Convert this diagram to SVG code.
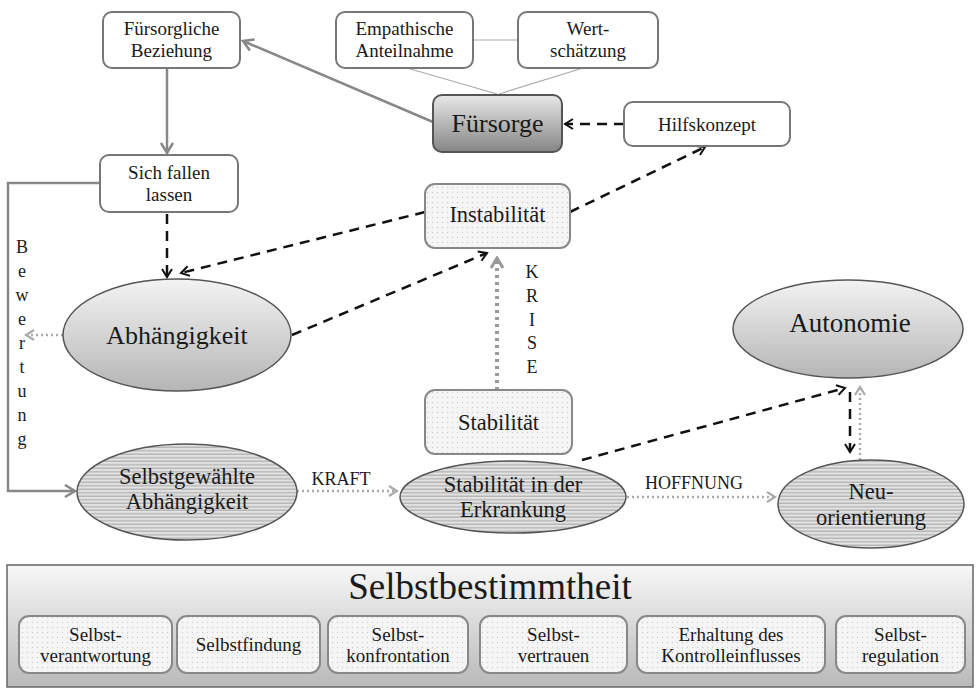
<svg xmlns="http://www.w3.org/2000/svg" width="978" height="690" viewBox="0 0 978 690">
<defs>
<style>
text{font-family:"Liberation Serif","DejaVu Serif",serif;fill:#1a1a1a;text-anchor:middle}
.t19{font-size:19px}
.t22{font-size:22.5px}
.t18{font-size:18px}
.box{fill:#fff;stroke:#777;stroke-width:2}
.dot{fill:url(#dots);stroke:#888;stroke-width:2}
.ell{fill:url(#ellG);stroke:#555;stroke-width:1.5}
.str{fill:url(#stripes);stroke:#555;stroke-width:1.5}
.gs{fill:none;stroke:#888;stroke-width:2.5}
.dash{fill:none;stroke:#111;stroke-width:2.5;stroke-dasharray:10,7}
.dotl{fill:none;stroke:#aaa;stroke-width:2.5;stroke-dasharray:2,3}
.thin{fill:none;stroke:#aaa;stroke-width:1.2}
</style>
<pattern id="dots" width="5" height="5" patternUnits="userSpaceOnUse">
<rect width="5" height="5" fill="#f5f5f5"/>
<circle cx="2.5" cy="2.5" r="0.7" fill="#cfcfcf"/>
</pattern>
<pattern id="stripes" width="6" height="3.5" patternUnits="userSpaceOnUse">
<rect width="6" height="3.5" fill="#e2e2e2"/>
<rect y="2.2" width="6" height="1.1" fill="#a9a9a9"/>
</pattern>
<linearGradient id="ellG" x1="0" y1="0" x2="0" y2="1">
<stop offset="0" stop-color="#f3f3f3"/>
<stop offset="1" stop-color="#b5b5b5"/>
</linearGradient>
<linearGradient id="fsG" x1="0" y1="0" x2="0" y2="1">
<stop offset="0" stop-color="#e8e8e8"/>
<stop offset="1" stop-color="#858585"/>
</linearGradient>
<linearGradient id="panelG" x1="0" y1="0" x2="0" y2="1">
<stop offset="0" stop-color="#f7f7f7"/>
<stop offset="1" stop-color="#b9b9b9"/>
</linearGradient>
<marker id="ab" viewBox="0 0 12 12" refX="10" refY="6" markerWidth="12" markerHeight="12" markerUnits="userSpaceOnUse" orient="auto">
<path d="M2,1 L10,6 L2,11" fill="none" stroke="#111" stroke-width="2"/>
</marker>
<marker id="ag" viewBox="0 0 14 14" refX="12" refY="7" markerWidth="14" markerHeight="14" markerUnits="userSpaceOnUse" orient="auto">
<path d="M2,1 L12,7 L2,13" fill="none" stroke="#888" stroke-width="2.5"/>
</marker>
<marker id="al" viewBox="0 0 12 12" refX="10" refY="6" markerWidth="12" markerHeight="12" markerUnits="userSpaceOnUse" orient="auto">
<path d="M2,1 L10,6 L2,11" fill="none" stroke="#aaa" stroke-width="2.2"/>
</marker>
<marker id="ak" viewBox="0 0 14 14" refX="12" refY="7" markerWidth="14" markerHeight="14" markerUnits="userSpaceOnUse" orient="auto">
<path d="M2,1 L12,7 L2,13" fill="none" stroke="#999" stroke-width="3"/>
</marker>
</defs>
<rect width="978" height="690" fill="#fff"/>

<g id="connectors">
<path class="thin" d="M473,40 H518"/>
<path class="thin" d="M407,68 L497,94"/>
<path class="thin" d="M583,68 L499,94"/>
<path class="gs" d="M433,122 L243,41" marker-end="url(#ag)"/>
<path class="gs" d="M167,68 V153" marker-end="url(#ag)"/>
<path class="gs" d="M100,183 H8 V491 H75" marker-end="url(#ag)"/>
<path class="dash" d="M167,214 V277" marker-end="url(#ab)"/>
<path class="dash" d="M425,212 L181,273" marker-end="url(#ab)"/>
<path class="dash" d="M292,335 L487,253" marker-end="url(#ab)"/>
<path class="dash" d="M570,212 L705,147" marker-end="url(#ab)"/>
<path class="dash" d="M624,124 H565" marker-end="url(#ab)"/>
<path class="dotl" d="M63,335 H26" marker-end="url(#al)"/>
<path fill="none" stroke="#999" stroke-width="4" stroke-dasharray="3,4" d="M497,390 V258" marker-end="url(#ak)"/>
<path class="dotl" d="M297,491 H397" marker-end="url(#al)"/>
<path class="dotl" d="M627,497 H775" marker-end="url(#al)"/>
<path class="dash" d="M582,460 L845,388" marker-end="url(#ab)"/>
<path class="dash" d="M850,392 V452" marker-end="url(#ab)"/>
<path class="dotl" d="M860,460 V387" marker-end="url(#al)"/>
<g id="label-bewertung" class="t18">
<text x="22" y="253">B</text>
<text x="22" y="277">e</text>
<text x="22" y="301">w</text>
<text x="22" y="325">e</text>
<text x="22" y="349">r</text>
<text x="22" y="373">t</text>
<text x="22" y="397">u</text>
<text x="22" y="421">n</text>
<text x="22" y="445">g</text>
</g>
<g id="label-krise" class="t18">
<text x="532" y="278">K</text>
<text x="532" y="302">R</text>
<text x="532" y="326">I</text>
<text x="532" y="349">S</text>
<text x="532" y="373">E</text>
</g>
<text class="t18" x="341" y="485">KRAFT</text>
<text class="t18" x="694" y="489">HOFFNUNG</text>
</g>

<g id="n-fuersorgliche">
<rect class="box" x="103" y="12" width="137" height="56" rx="9"/>
<text class="t19" x="171.5" y="35">Fürsorgliche</text>
<text class="t19" x="171.5" y="57">Beziehung</text>
</g>
<g id="n-empathische">
<rect class="box" x="336" y="12" width="137" height="56" rx="9"/>
<text class="t19" x="404.5" y="35">Empathische</text>
<text class="t19" x="404.5" y="57">Anteilnahme</text>
</g>
<g id="n-wertschaetzung">
<rect class="box" x="518" y="12" width="140" height="56" rx="9"/>
<text class="t19" x="588" y="35">Wert-</text>
<text class="t19" x="588" y="57">schätzung</text>
</g>
<g id="n-fuersorge">
<rect x="433" y="95" width="129" height="57" rx="9" fill="url(#fsG)" stroke="#555" stroke-width="2"/>
<text x="497.5" y="132" style="font-size:26px">Fürsorge</text>
</g>
<g id="n-hilfskonzept">
<rect class="box" x="624" y="102" width="166" height="44" rx="9"/>
<text class="t19" x="707" y="131">Hilfskonzept</text>
</g>
<g id="n-sichfallen">
<rect class="box" x="100" y="155" width="138" height="57" rx="9"/>
<text class="t19" x="169" y="179">Sich fallen</text>
<text class="t19" x="169" y="201">lassen</text>
</g>
<g id="n-instabilitaet">
<rect class="dot" x="425" y="184" width="145" height="64" rx="10"/>
<text class="t22" x="497.5" y="222">Instabilität</text>
</g>
<g id="n-abhaengigkeit">
<ellipse class="ell" cx="177" cy="335" rx="114" ry="56"/>
<text x="177" y="344" style="font-size:26px">Abhängigkeit</text>
</g>
<g id="n-autonomie">
<ellipse class="ell" cx="848" cy="329" rx="115" ry="49"/>
<text x="850" y="332" style="font-size:27px">Autonomie</text>
</g>
<g id="n-stabilitaet">
<rect class="dot" x="425" y="390" width="147" height="64" rx="10"/>
<text class="t22" x="498.5" y="430">Stabilität</text>
</g>
<g id="n-selbstgewaehlte">
<ellipse class="str" cx="187" cy="492" rx="110" ry="48"/>
<text class="t22" x="187" y="484">Selbstgewählte</text>
<text class="t22" x="187" y="509">Abhängigkeit</text>
</g>
<g id="n-stabilitaet-erkrankung">
<ellipse class="str" cx="513" cy="497" rx="113" ry="36"/>
<text class="t22" x="513" y="492">Stabilität in der</text>
<text class="t22" x="513" y="517">Erkrankung</text>
</g>
<g id="n-neuorientierung">
<ellipse class="str" cx="871" cy="504" rx="93" ry="44"/>
<text class="t22" x="871" y="499">Neu-</text>
<text class="t22" x="871" y="525">orientierung</text>
</g>

<g id="n-selbstbestimmtheit">
<rect x="7" y="565" width="966" height="122" fill="url(#panelG)" stroke="#666" stroke-width="1.5"/>
<text x="490" y="599" style="font-size:37px">Selbstbestimmtheit</text>
</g>
<g id="n-sv">
<rect class="dot" x="19" y="616" width="153" height="57" rx="10"/>
<text class="t19" x="95.5" y="641">Selbst-</text>
<text class="t19" x="95.5" y="662">verantwortung</text>
</g>
<g id="n-sfind">
<rect class="dot" x="177" y="616" width="143" height="57" rx="10"/>
<text class="t19" x="248.5" y="651">Selbstfindung</text>
</g>
<g id="n-sk">
<rect class="dot" x="328" y="616" width="140" height="57" rx="10"/>
<text class="t19" x="398" y="641">Selbst-</text>
<text class="t19" x="398" y="662">konfrontation</text>
</g>
<g id="n-svt">
<rect class="dot" x="480" y="616" width="147" height="57" rx="10"/>
<text class="t19" x="553.5" y="641">Selbst-</text>
<text class="t19" x="553.5" y="662">vertrauen</text>
</g>
<g id="n-ek">
<rect class="dot" x="637" y="616" width="188" height="57" rx="10"/>
<text class="t19" x="731" y="641">Erhaltung des</text>
<text class="t19" x="731" y="662">Kontrolleinflusses</text>
</g>
<g id="n-sr">
<rect class="dot" x="836" y="616" width="129" height="57" rx="10"/>
<text class="t19" x="900.5" y="641">Selbst-</text>
<text class="t19" x="900.5" y="662">regulation</text>
</g>
</svg>
